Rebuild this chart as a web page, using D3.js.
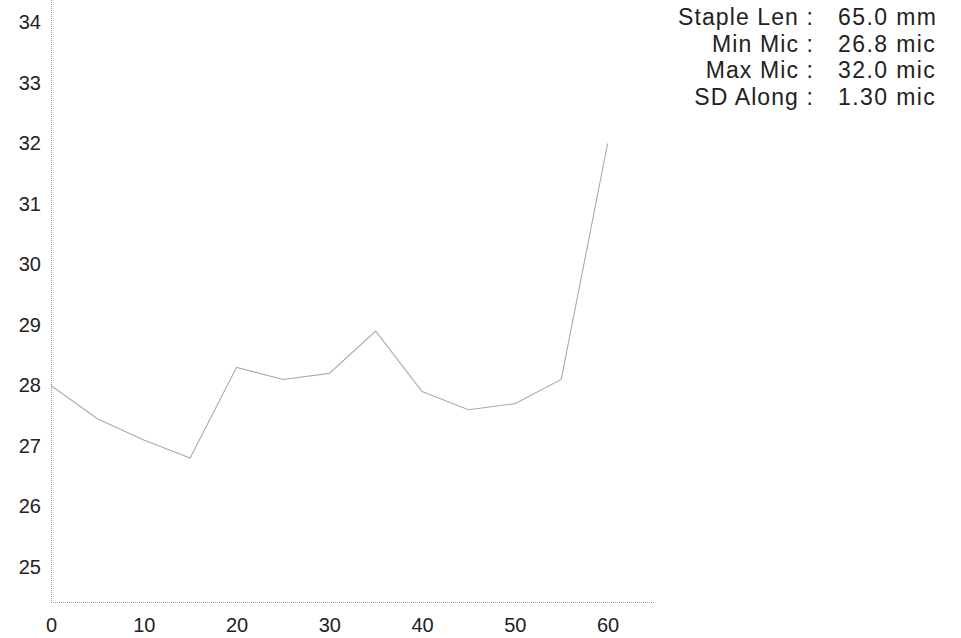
<!DOCTYPE html>
<html>
<head>
<meta charset="utf-8">
<script src="https://cdn.jsdelivr.net/npm/d3@7"></script>
<style>
  html, body { margin: 0; padding: 0; background: #fff; }
  svg { display: block; }
  text { font-family: "Liberation Sans", Arial, sans-serif; fill: #222; }
</style>
</head>
<body>
<svg id="chart" width="961" height="638"></svg>
<script>
// ---- data ----
const positions = [0, 5, 10, 15, 20, 25, 30, 35, 40, 45, 50, 55, 60];
const micValues = [28.0, 27.45, 27.1, 26.8, 28.3, 28.1, 28.2, 28.9, 27.9, 27.6, 27.7, 28.1, 32.0];
const xTicks = [0, 10, 20, 30, 40, 50, 60];
const yTicks = [25, 26, 27, 28, 29, 30, 31, 32, 33, 34];
const statLabels = ["Staple Len :", "Min Mic :", "Max Mic :", "SD Along :"];
const statValues = ["65.0 mm", "26.8 mic", "32.0 mic", "1.30 mic"];

// ---- layout ----
const svg = d3.select("#chart");
const plot = { left: 51, right: 654, top: 0, bottom: 602 };

const x = d3.scaleLinear().domain([0, 65]).range([plot.left, plot.right]);
const y = d3.scaleLinear().domain([25, 34]).range([567, 22.5]);

// axis lines (dotted gray)
svg.append("line")
  .attr("x1", plot.left).attr("x2", plot.left)
  .attr("y1", plot.top).attr("y2", plot.bottom)
  .attr("stroke", "#9a9a9a").attr("stroke-width", 1)
  .attr("stroke-dasharray", "1,1")
  .attr("shape-rendering", "crispEdges");
svg.append("line")
  .attr("x1", plot.left).attr("x2", plot.right)
  .attr("y1", plot.bottom).attr("y2", plot.bottom)
  .attr("stroke", "#9a9a9a").attr("stroke-width", 1)
  .attr("stroke-dasharray", "1,1")
  .attr("shape-rendering", "crispEdges");

// y axis labels
const yAxis = d3.axisLeft(y).tickValues(yTicks).tickSize(0).tickPadding(10).tickFormat(d3.format("d"));
const gy = svg.append("g").attr("transform", `translate(${plot.left},0)`).call(yAxis);
gy.select(".domain").remove();
gy.selectAll("text").style("font-size", "20px").attr("fill", "#333")
  .style("font-family", '"Liberation Sans", Arial, sans-serif');

// x axis labels
const xAxis = d3.axisBottom(x).tickValues(xTicks).tickSize(0).tickPadding(16).tickFormat(d3.format("d"));
const gx = svg.append("g").attr("transform", `translate(0,${plot.bottom})`).call(xAxis);
gx.select(".domain").remove();
gx.selectAll("text").style("font-size", "20px").attr("fill", "#333")
  .style("font-family", '"Liberation Sans", Arial, sans-serif');

// line
const line = d3.line().x((d, i) => x(positions[i])).y(d => y(d));
svg.append("path")
  .datum(micValues)
  .attr("d", line)
  .attr("fill", "none")
  .attr("stroke", "#ababab")
  .attr("stroke-width", 1.1);

// stats block
const stats = svg.append("g");
const rowY = d3.scaleLinear().domain([0, 3]).range([25, 105]);
stats.selectAll("text.lab").data(statLabels).join("text")
  .attr("class", "lab")
  .attr("x", 814).attr("y", (d, i) => rowY(i))
  .attr("text-anchor", "end")
  .style("font-size", "23px")
  .style("letter-spacing", "1.1px")
  .attr("fill", "#222")
  .text(d => d);
stats.selectAll("text.val").data(statValues).join("text")
  .attr("class", "val")
  .attr("x", 838).attr("y", (d, i) => rowY(i))
  .style("font-size", "23px")
  .style("letter-spacing", "1.4px")
  .attr("fill", "#222")
  .text(d => d);
</script>
</body>
</html>
